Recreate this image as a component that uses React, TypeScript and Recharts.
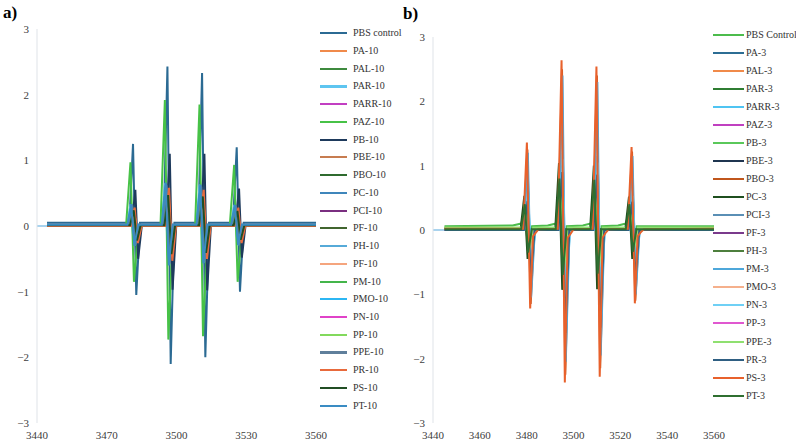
import { LineChart, Line, XAxis, YAxis, ReferenceLine } from "recharts"

type Pt = [number, number]

// ---- a) 10 series (field in G, intensity in a.u.) ----
const pbsControl10: Pt[] = [[3444.3,0.05],[3479.7,0.05],[3481.3,1.25],[3482.7,-1.05],[3484.3,0.05],[3494.5,0.05],[3496.1,2.43],[3497.5,-2.1],[3499.1,0.05],[3509.4,0.05],[3511.0,2.33],[3512.4,-2.0],[3514.0,0.05],[3524.3,0.05],[3525.9,1.2],[3527.3,-1.0],[3528.9,0.05],[3560,0.05]]
const pa10: Pt[] = [[3444.3,0.01],[3480.0,0.01],[3481.6,0.28],[3483.0,-0.25],[3484.6,0.01],[3494.8,0.01],[3496.4,0.55],[3497.8,-0.5],[3499.4,0.01],[3509.7,0.01],[3511.3,0.53],[3512.7,-0.48],[3514.3,0.01],[3524.6,0.01],[3526.2,0.27],[3527.6,-0.25],[3529.2,0.01],[3560,0.01]]
const pal10: Pt[] = [[3444.3,0],[3479.5,0],[3481.1,0.3],[3482.5,-0.28],[3484.1,0],[3494.3,0],[3495.9,0.6],[3497.3,-0.55],[3498.9,0],[3509.2,0],[3510.8,0.58],[3512.2,-0.53],[3513.8,0],[3524.1,0],[3525.7,0.3],[3527.1,-0.27],[3528.7,0],[3560,0]]
const par10: Pt[] = [[3444.3,0.01],[3478.8,0.01],[3480.4,0.33],[3481.8,-0.3],[3483.4,0.01],[3493.6,0.01],[3495.2,0.65],[3496.6,-0.58],[3498.2,0.01],[3508.5,0.01],[3510.1,0.63],[3511.5,-0.56],[3513.1,0.01],[3523.4,0.01],[3525.0,0.32],[3526.4,-0.29],[3528.0,0.01],[3560,0.01]]
const parr10: Pt[] = [[3444.3,0],[3479.8,0],[3481.4,0.15],[3482.8,-0.14],[3484.4,0],[3494.6,0],[3496.2,0.3],[3497.6,-0.27],[3499.2,0],[3509.5,0],[3511.1,0.29],[3512.5,-0.26],[3514.1,0],[3524.4,0],[3526.0,0.15],[3527.4,-0.13],[3529.0,0],[3560,0]]
const paz10: Pt[] = [[3444.3,0],[3478.3,0],[3480.2,0.97],[3481.7,-0.85],[3483.7,0],[3493.1,0],[3495.0,1.92],[3496.5,-1.73],[3498.5,0],[3508.0,0],[3509.9,1.85],[3511.4,-1.68],[3513.4,0],[3522.9,0],[3524.8,0.93],[3526.3,-0.85],[3528.3,0],[3560,0]]
const pb10: Pt[] = [[3444.3,0.01],[3480.7,0.01],[3482.3,0.55],[3483.5,-0.5],[3485.1,0.01],[3495.5,0.01],[3497.1,1.1],[3498.3,-0.97],[3499.9,0.01],[3510.4,0.01],[3512.0,1.1],[3513.2,-0.98],[3514.8,0.01],[3525.3,0.01],[3526.9,0.57],[3528.1,-0.48],[3529.7,0.01],[3560,0.01]]
const pbe10: Pt[] = [[3444.3,0],[3480.2,0],[3481.8,0.25],[3483.2,-0.23],[3484.8,0],[3495.0,0],[3496.6,0.5],[3498.0,-0.46],[3499.6,0],[3509.9,0],[3511.5,0.48],[3512.9,-0.44],[3514.5,0],[3524.8,0],[3526.4,0.25],[3527.8,-0.22],[3529.4,0],[3560,0]]
const pbo10: Pt[] = [[3444.3,0.01],[3479.9,0.01],[3481.5,0.22],[3482.9,-0.2],[3484.5,0.01],[3494.7,0.01],[3496.3,0.45],[3497.7,-0.42],[3499.3,0.01],[3509.6,0.01],[3511.2,0.43],[3512.6,-0.4],[3514.2,0.01],[3524.5,0.01],[3526.1,0.22],[3527.5,-0.2],[3529.1,0.01],[3560,0.01]]
const pc10: Pt[] = [[3444.3,0],[3479.1,0],[3480.7,0.33],[3482.1,-0.3],[3483.7,0],[3493.9,0],[3495.5,0.64],[3496.9,-0.58],[3498.5,0],[3508.8,0],[3510.4,0.62],[3511.8,-0.56],[3513.4,0],[3523.7,0],[3525.3,0.32],[3526.7,-0.29],[3528.3,0],[3560,0]]
const pci10: Pt[] = [[3444.3,0.01],[3479.7,0.01],[3481.3,0.12],[3482.7,-0.11],[3484.3,0.01],[3494.5,0.01],[3496.1,0.25],[3497.5,-0.23],[3499.1,0.01],[3509.4,0.01],[3511.0,0.24],[3512.4,-0.22],[3514.0,0.01],[3524.3,0.01],[3525.9,0.12],[3527.3,-0.11],[3528.9,0.01],[3560,0.01]]
const pf10: Pt[] = [[3444.3,0],[3480.1,0],[3481.7,0.2],[3483.1,-0.18],[3484.7,0],[3494.9,0],[3496.5,0.4],[3497.9,-0.37],[3499.5,0],[3509.8,0],[3511.4,0.38],[3512.8,-0.35],[3514.4,0],[3524.7,0],[3526.3,0.2],[3527.7,-0.18],[3529.3,0],[3560,0]]
const ph10: Pt[] = [[3444.3,0.01],[3479.3,0.01],[3480.9,0.3],[3482.3,-0.27],[3483.9,0.01],[3494.1,0.01],[3495.7,0.58],[3497.1,-0.53],[3498.7,0.01],[3509.0,0.01],[3510.6,0.56],[3512.0,-0.51],[3513.6,0.01],[3523.9,0.01],[3525.5,0.29],[3526.9,-0.26],[3528.5,0.01],[3560,0.01]]
const pf10b: Pt[] = [[3444.3,0],[3480.3,0],[3481.9,0.2],[3483.3,-0.18],[3484.9,0],[3495.1,0],[3496.7,0.38],[3498.1,-0.35],[3499.7,0],[3510.0,0],[3511.6,0.37],[3513.0,-0.34],[3514.6,0],[3524.9,0],[3526.5,0.19],[3527.9,-0.17],[3529.5,0],[3560,0]]
const pm10: Pt[] = [[3444.3,0],[3479.4,0],[3481.0,0.25],[3482.4,-0.23],[3484.0,0],[3494.2,0],[3495.8,0.5],[3497.2,-0.46],[3498.8,0],[3509.1,0],[3510.7,0.48],[3512.1,-0.44],[3513.7,0],[3524.0,0],[3525.6,0.25],[3527.0,-0.23],[3528.6,0],[3560,0]]
const pmo10: Pt[] = [[3444.3,0.01],[3479.0,0.01],[3480.6,0.3],[3482.0,-0.28],[3483.6,0.01],[3493.8,0.01],[3495.4,0.6],[3496.8,-0.55],[3498.4,0.01],[3508.7,0.01],[3510.3,0.58],[3511.7,-0.53],[3513.3,0.01],[3523.6,0.01],[3525.2,0.3],[3526.6,-0.27],[3528.2,0.01],[3560,0.01]]
const pn10: Pt[] = [[3444.3,0],[3479.9,0],[3481.5,0.14],[3482.9,-0.13],[3484.5,0],[3494.7,0],[3496.3,0.27],[3497.7,-0.25],[3499.3,0],[3509.6,0],[3511.2,0.26],[3512.6,-0.24],[3514.2,0],[3524.5,0],[3526.1,0.14],[3527.5,-0.12],[3529.1,0],[3560,0]]
const pp10: Pt[] = [[3444.3,0.01],[3479.6,0.01],[3481.2,0.18],[3482.6,-0.16],[3484.2,0.01],[3494.4,0.01],[3496.0,0.35],[3497.4,-0.32],[3499.0,0.01],[3509.3,0.01],[3510.9,0.34],[3512.3,-0.31],[3513.9,0.01],[3524.2,0.01],[3525.8,0.18],[3527.2,-0.16],[3528.8,0.01],[3560,0.01]]
const ppe10: Pt[] = [[3444.3,0.02],[3479.2,0.02],[3480.8,0.32],[3482.2,-0.29],[3483.8,0.02],[3494.0,0.02],[3495.6,0.62],[3497.0,-0.57],[3498.6,0.02],[3508.9,0.02],[3510.5,0.6],[3511.9,-0.55],[3513.5,0.02],[3523.8,0.02],[3525.4,0.31],[3526.8,-0.28],[3528.4,0.02],[3560,0.02]]
const pr10: Pt[] = [[3444.3,0],[3480.4,0],[3482.0,0.28],[3483.4,-0.26],[3485.0,0],[3495.2,0],[3496.8,0.58],[3498.2,-0.53],[3499.8,0],[3510.1,0],[3511.7,0.55],[3513.1,-0.5],[3514.7,0],[3525.0,0],[3526.6,0.28],[3528.0,-0.26],[3529.6,0],[3560,0]]
const ps10: Pt[] = [[3444.3,0.01],[3480.0,0.01],[3481.6,0.24],[3483.0,-0.22],[3484.6,0.01],[3494.8,0.01],[3496.4,0.47],[3497.8,-0.43],[3499.4,0.01],[3509.7,0.01],[3511.3,0.45],[3512.7,-0.41],[3514.3,0.01],[3524.6,0.01],[3526.2,0.23],[3527.6,-0.21],[3529.2,0.01],[3560,0.01]]
const pt10: Pt[] = [[3444.3,0.02],[3478.9,0.02],[3480.5,0.33],[3481.9,-0.3],[3483.5,0.02],[3493.7,0.02],[3495.3,0.66],[3496.7,-0.6],[3498.3,0.02],[3508.6,0.02],[3510.2,0.63],[3511.6,-0.57],[3513.2,0.02],[3523.5,0.02],[3525.1,0.32],[3526.5,-0.29],[3528.1,0.02],[3560,0.02]]

// ---- b) 3 series ----
const pbsControl3: Pt[] = [[3444.9,0.06],[3474,0.07],[3477.7,0.1],[3479.3,0.35],[3480.7,-0.3],[3482.3,0.06],[3489,0.07],[3492.5,0.1],[3494.1,0.68],[3495.5,-0.6],[3497.1,0.06],[3504,0.07],[3507.4,0.1],[3509.0,0.66],[3510.4,-0.58],[3512.0,0.06],[3519,0.07],[3522.4,0.1],[3524.0,0.34],[3525.4,-0.3],[3527.0,0.06],[3560,0.06]]
const pa3: Pt[] = [[3444.9,0.01],[3478.8,0.01],[3480.4,0.45],[3481.8,-0.42],[3483.4,0.01],[3493.6,0.01],[3495.2,0.9],[3496.6,-0.85],[3498.2,0.01],[3508.5,0.01],[3510.1,0.86],[3511.5,-0.8],[3513.1,0.01],[3523.5,0.01],[3525.1,0.44],[3526.5,-0.4],[3528.1,0.01],[3560,0.01]]
const pal3: Pt[] = [[3444.9,0.02],[3478.6,0.02],[3480.2,0.33],[3481.6,-0.35],[3483.2,0.02],[3493.4,0.02],[3495.0,0.66],[3496.4,-0.7],[3498.0,0.02],[3508.3,0.02],[3509.9,0.63],[3511.3,-0.66],[3512.9,0.02],[3523.3,0.02],[3524.9,0.32],[3526.3,-0.33],[3527.9,0.02],[3560,0.02]]
const par3: Pt[] = [[3444.9,0.01],[3477.9,0.01],[3479.5,0.3],[3480.9,-0.28],[3482.5,0.01],[3492.7,0.01],[3494.3,0.6],[3495.7,-0.55],[3497.3,0.01],[3507.6,0.01],[3509.2,0.57],[3510.6,-0.52],[3512.2,0.01],[3522.6,0.01],[3524.2,0.29],[3525.6,-0.27],[3527.2,0.01],[3560,0.01]]
const parr3: Pt[] = [[3444.9,0],[3479.0,0],[3480.6,0.6],[3482.0,-0.6],[3483.6,0],[3493.8,0],[3495.4,1.2],[3496.8,-1.2],[3498.4,0],[3508.7,0],[3510.3,1.15],[3511.7,-1.15],[3513.3,0],[3523.7,0],[3525.3,0.58],[3526.7,-0.58],[3528.3,0],[3560,0]]
const paz3: Pt[] = [[3444.9,0],[3478.5,0],[3480.1,0.2],[3481.5,-0.22],[3483.1,0],[3493.3,0],[3494.9,0.4],[3496.3,-0.45],[3497.9,0],[3508.2,0],[3509.8,0.38],[3511.2,-0.42],[3512.8,0],[3523.2,0],[3524.8,0.2],[3526.2,-0.21],[3527.8,0],[3560,0]]
const pb3: Pt[] = [[3444.9,0.03],[3478.1,0.03],[3479.7,0.3],[3481.1,-0.27],[3482.7,0.03],[3492.9,0.03],[3494.5,0.6],[3495.9,-0.55],[3497.5,0.03],[3507.8,0.03],[3509.4,0.57],[3510.8,-0.52],[3512.4,0.03],[3522.8,0.03],[3524.4,0.29],[3525.8,-0.27],[3527.4,0.03],[3560,0.03]]
const pbe3: Pt[] = [[3444.9,0],[3478.3,0],[3479.9,0.25],[3481.3,-0.24],[3482.9,0],[3493.1,0],[3494.7,0.5],[3496.1,-0.48],[3497.7,0],[3508.0,0],[3509.6,0.48],[3511.0,-0.46],[3512.6,0],[3523.0,0],[3524.6,0.24],[3526.0,-0.23],[3527.6,0],[3560,0]]
const pbo3: Pt[] = [[3444.9,0.01],[3478.7,0.01],[3480.3,1.25],[3481.7,-1.15],[3483.3,0.01],[3493.5,0.01],[3495.1,2.5],[3496.5,-2.25],[3498.1,0.01],[3508.4,0.01],[3510.0,2.4],[3511.4,-2.15],[3513.0,0.01],[3523.4,0.01],[3525.0,1.22],[3526.4,-1.1],[3528.0,0.01],[3560,0.01]]
const pc3: Pt[] = [[3444.9,0.01],[3477.4,0.01],[3479.0,0.53],[3480.4,-0.45],[3482.0,0.01],[3492.2,0.01],[3493.8,1.04],[3495.2,-0.93],[3496.8,0.01],[3507.1,0.01],[3508.7,1.0],[3510.1,-0.92],[3511.7,0.01],[3522.1,0.01],[3523.7,0.52],[3525.1,-0.45],[3526.7,0.01],[3560,0.01]]
const pci3: Pt[] = [[3444.9,0],[3478.9,0],[3480.5,0.5],[3481.9,-0.75],[3483.5,0],[3493.7,0],[3495.3,1.0],[3496.7,-1.5],[3498.3,0],[3508.6,0],[3510.2,0.96],[3511.6,-1.45],[3513.2,0],[3523.6,0],[3525.2,0.48],[3526.6,-0.72],[3528.2,0],[3560,0]]
const pf3: Pt[] = [[3444.9,0.01],[3478.4,0.01],[3480.0,0.22],[3481.4,-0.2],[3483.0,0.01],[3493.2,0.01],[3494.8,0.45],[3496.2,-0.42],[3497.8,0.01],[3508.1,0.01],[3509.7,0.43],[3511.1,-0.4],[3512.7,0.01],[3523.1,0.01],[3524.7,0.22],[3526.1,-0.2],[3527.7,0.01],[3560,0.01]]
const ph3: Pt[] = [[3444.9,0.02],[3477.8,0.02],[3479.4,0.28],[3480.8,-0.25],[3482.4,0.02],[3492.6,0.02],[3494.2,0.55],[3495.6,-0.5],[3497.2,0.02],[3507.5,0.02],[3509.1,0.53],[3510.5,-0.48],[3512.1,0.02],[3522.5,0.02],[3524.1,0.27],[3525.5,-0.24],[3527.1,0.02],[3560,0.02]]
const pm3: Pt[] = [[3444.9,0],[3478.9,0],[3480.5,1.2],[3481.9,-1.05],[3483.5,0],[3493.7,0],[3495.3,2.4],[3496.7,-2.05],[3498.3,0],[3508.6,0],[3510.2,2.3],[3511.6,-1.95],[3513.2,0],[3523.6,0],[3525.2,1.15],[3526.6,-1.0],[3528.2,0],[3560,0]]
const pmo3: Pt[] = [[3444.9,0.01],[3478.7,0.01],[3480.3,0.3],[3481.7,-0.3],[3483.3,0.01],[3493.5,0.01],[3495.1,0.6],[3496.5,-0.6],[3498.1,0.01],[3508.4,0.01],[3510.0,0.58],[3511.4,-0.57],[3513.0,0.01],[3523.4,0.01],[3525.0,0.3],[3526.4,-0.29],[3528.0,0.01],[3560,0.01]]
const pn3: Pt[] = [[3444.9,0],[3479.0,0],[3480.6,0.55],[3482.0,-0.7],[3483.6,0],[3493.8,0],[3495.4,1.1],[3496.8,-1.4],[3498.4,0],[3508.7,0],[3510.3,1.05],[3511.7,-1.35],[3513.3,0],[3523.7,0],[3525.3,0.53],[3526.7,-0.68],[3528.3,0],[3560,0]]
const pp3: Pt[] = [[3444.9,0],[3478.6,0],[3480.2,0.18],[3481.6,-0.2],[3483.2,0],[3493.4,0],[3495.0,0.36],[3496.4,-0.4],[3498.0,0],[3508.3,0],[3509.9,0.34],[3511.3,-0.38],[3512.9,0],[3523.3,0],[3524.9,0.18],[3526.3,-0.2],[3527.9,0],[3560,0]]
const ppe3: Pt[] = [[3444.9,0.04],[3478.2,0.04],[3479.8,0.32],[3481.2,-0.3],[3482.8,0.04],[3493.0,0.04],[3494.6,0.64],[3496.0,-0.6],[3497.6,0.04],[3507.9,0.04],[3509.5,0.61],[3510.9,-0.57],[3512.5,0.04],[3522.9,0.04],[3524.5,0.31],[3525.9,-0.29],[3527.5,0.04],[3560,0.04]]
const pr3: Pt[] = [[3444.9,0],[3478.8,0],[3480.4,0.45],[3481.8,-0.8],[3483.4,0],[3493.6,0],[3495.2,0.9],[3496.6,-1.6],[3498.2,0],[3508.5,0],[3510.1,0.86],[3511.5,-1.52],[3513.1,0],[3523.5,0],[3525.1,0.44],[3526.5,-0.78],[3528.1,0],[3560,0]]
const ps3: Pt[] = [[3444.9,0.02],[3478.5,0.02],[3480.1,1.36],[3481.5,-1.22],[3482.7,-0.1],[3483.9,-0.04],[3485.0,0.01],[3493.3,0.02],[3494.9,2.64],[3496.3,-2.37],[3497.5,-0.12],[3498.7,-0.06],[3500.0,0.01],[3508.2,0.02],[3509.8,2.54],[3511.2,-2.28],[3512.4,-0.12],[3513.6,-0.05],[3515.0,0.01],[3523.2,0.02],[3524.8,1.29],[3526.2,-1.14],[3527.4,-0.1],[3528.6,-0.04],[3530.0,0.01],[3560,0.02]]
const pt3: Pt[] = [[3444.9,0.01],[3477.6,0.01],[3479.2,0.4],[3480.6,-0.35],[3482.2,0.01],[3492.4,0.01],[3494.0,0.8],[3495.4,-0.7],[3497.0,0.01],[3507.3,0.01],[3508.9,0.78],[3510.3,-0.68],[3511.9,0.01],[3522.3,0.01],[3523.9,0.4],[3525.3,-0.34],[3526.9,0.01],[3560,0.01]]

const namesA = ["PBS control", "PA-10", "PAL-10", "PAR-10", "PARR-10", "PAZ-10", "PB-10", "PBE-10", "PBO-10", "PC-10", "PCI-10", "PF-10", "PH-10", "PF-10", "PM-10", "PMO-10", "PN-10", "PP-10", "PPE-10", "PR-10", "PS-10", "PT-10"]
const spectraA = [pbsControl10, pa10, pal10, par10, parr10, paz10, pb10, pbe10, pbo10, pc10, pci10, pf10, ph10, pf10b, pm10, pmo10, pn10, pp10, ppe10, pr10, ps10, pt10]
const colorsA = ["#2b6a93", "#f08a4b", "#3e8a3e", "#5ec5f0", "#c23fc2", "#47c247", "#1e3a5c", "#c77c50", "#2f6b2f", "#3f86bb", "#7a2f80", "#41652f", "#56aad8", "#f5a57e", "#44b54b", "#2cb6f3", "#e042c8", "#82d95c", "#5f7f9b", "#e86a3c", "#214e24", "#3a8cc3"]
const widthsA = [2, 2, 2, 2.6, 2, 2, 2, 2, 2, 2, 2, 2, 2, 2, 2, 2, 2, 2, 2.6, 2, 2, 2]

const namesB = ["PBS Control", "PA-3", "PAL-3", "PAR-3", "PARR-3", "PAZ-3", "PB-3", "PBE-3", "PBO-3", "PC-3", "PCI-3", "PF-3", "PH-3", "PM-3", "PMO-3", "PN-3", "PP-3", "PPE-3", "PR-3", "PS-3", "PT-3"]
const spectraB = [pbsControl3, pa3, pal3, par3, parr3, paz3, pb3, pbe3, pbo3, pc3, pci3, pf3, ph3, pm3, pmo3, pn3, pp3, ppe3, pr3, ps3, pt3]
const colorsB = ["#4cbc4c", "#2c6d94", "#f08a4a", "#2f7d32", "#4fc4f2", "#c040c0", "#5ac85a", "#1f3550", "#c0561c", "#1f4f1f", "#5a8fb5", "#7a3a8c", "#4d7f3d", "#4ea7da", "#f5b08c", "#6fd0f5", "#e058d0", "#8fe070", "#2f5f82", "#e8612c", "#2f6f30"]
const widthsB = namesB.map(() => 2)

const yTicks = [-3, -2, -1, 0, 1, 2, 3]
const xTicksA = [3440, 3470, 3500, 3530, 3560]
const xTicksB = [3440, 3460, 3480, 3500, 3520, 3540, 3560]

const serif = "'Times New Roman', 'Liberation Serif', Times, serif"
const tickStyle = { fill: "#404040", fontSize: 11, fontFamily: serif }
const withMinus = (v: number) => (v < 0 ? `\u2212${-v}` : `${v}`)

type PanelProps = {
  spectra: Pt[][]
  colors: string[]
  widths: number[]
  xTicks: number[]
  yAxisWidth: number
  top: number
  right: number
}

function Spectra({ spectra, colors, widths, xTicks, yAxisWidth, top, right }: PanelProps) {
  return (
    <LineChart width={340} height={446} margin={{ top, right, bottom: 0, left: 0 }}>
      <XAxis
        type="number"
        dataKey="field"
        domain={[3440, 3560]}
        ticks={xTicks}
        interval={0}
        allowDataOverflow
        axisLine={false}
        tickLine={false}
        height={23}
        tick={tickStyle}
      />
      <YAxis
        type="number"
        domain={[-3, 3]}
        ticks={yTicks}
        interval={0}
        width={yAxisWidth}
        axisLine={{ stroke: "#dfe3e8" }}
        tickLine={false}
        tick={tickStyle}
        tickFormatter={withMinus}
      />
      <ReferenceLine segment={[{ x: 3440, y: 0 }, { x: 3445, y: 0 }]} stroke="#a9d3ee" strokeWidth={2} />
      {spectra.map((pts, i) => (
        <Line
          key={i}
          data={pts.map(([field, value]) => ({ field, value }))}
          dataKey="value"
          type="linear"
          stroke={colors[i]}
          strokeWidth={widths[i]}
          dot={false}
          activeDot={false}
          isAnimationActive={false}
        />
      ))}
    </LineChart>
  )
}

type KeyProps = {
  names: string[]
  colors: string[]
  widths: number[]
  top: number
  step: number
  lineX: number
  lineW: number
  textX: number
}

function SeriesKey({ names, colors, widths, top, step, lineX, lineW, textX }: KeyProps) {
  return (
    <>
      {names.map((name, i) => (
        <div key={i}>
          <div
            style={{
              position: "absolute",
              left: lineX,
              top: Math.round(top + i * step - widths[i] / 2),
              width: lineW,
              height: widths[i],
              background: colors[i],
            }}
          />
          <div
            style={{
              position: "absolute",
              left: textX,
              top: top + i * step - 7,
              lineHeight: "14px",
              fontSize: 10,
              color: "#333",
              fontFamily: serif,
              whiteSpace: "nowrap",
            }}
          >
            {name}
          </div>
        </div>
      ))}
    </>
  )
}

export default function App() {
  return (
    <div style={{ position: "fixed", left: 0, top: 0, width: 796, height: 446, background: "#fff", overflow: "hidden" }}>
      <div style={{ position: "absolute", left: 3, top: 3, fontFamily: serif, fontWeight: 700, fontSize: 17 }}>a)</div>
      <div style={{ position: "absolute", left: 403, top: 4, fontFamily: serif, fontWeight: 700, fontSize: 17 }}>b)</div>
      <div style={{ position: "absolute", left: 0, top: 0 }}>
        <Spectra spectra={spectraA} colors={colorsA} widths={widthsA} xTicks={xTicksA} yAxisWidth={37} top={29} right={24} />
      </div>
      <div style={{ position: "absolute", left: 400, top: 0 }}>
        <Spectra spectra={spectraB} colors={colorsB} widths={widthsB} xTicks={xTicksB} yAxisWidth={33} top={37} right={26} />
      </div>
      <SeriesKey names={namesA} colors={colorsA} widths={widthsA} top={33.3} step={17.73} lineX={320} lineW={27} textX={353} />
      <SeriesKey names={namesB} colors={colorsB} widths={widthsB} top={35} step={18.03} lineX={713} lineW={31} textX={746} />
    </div>
  )
}
